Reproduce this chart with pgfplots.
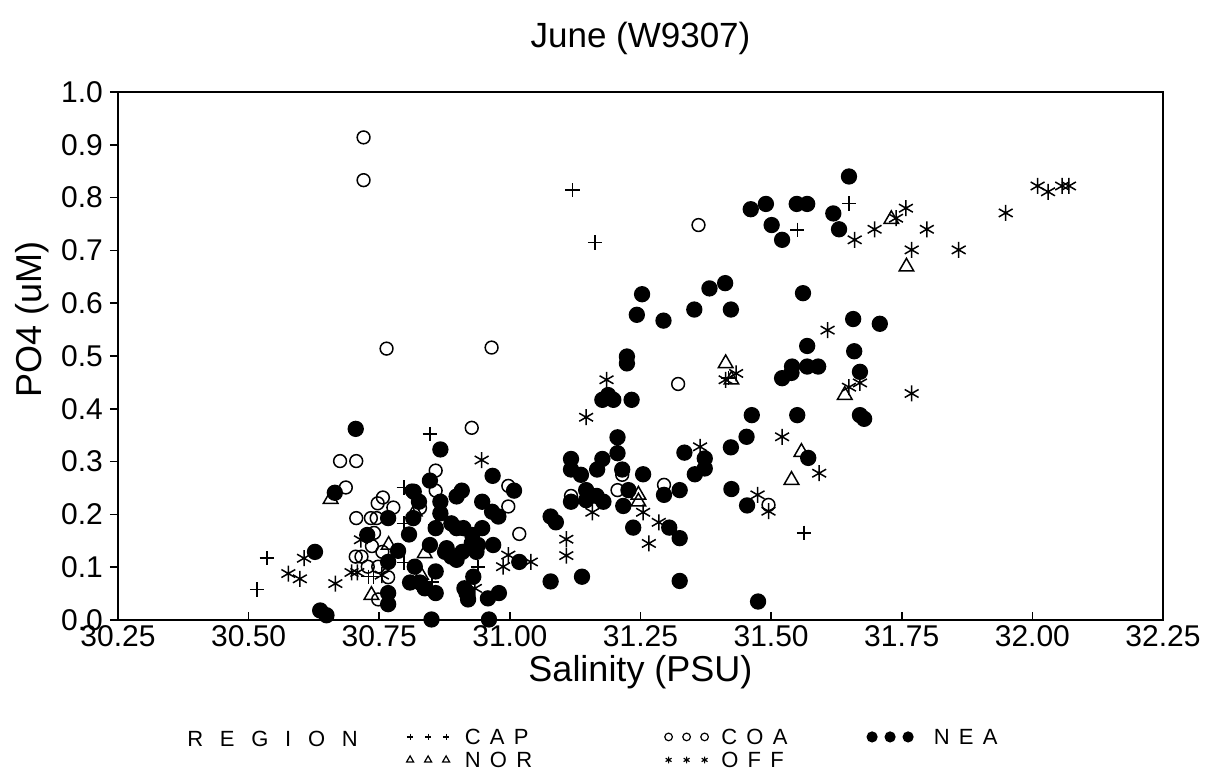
\documentclass[border=0pt]{standalone}
\usepackage{fontspec}
\setmainfont{Liberation Sans}
\usepackage{pgfplots}
\pgfplotsset{compat=1.18}
\begin{document}
\begin{tikzpicture}
\useasboundingbox (-59pt,-78.5pt) rectangle (546pt,310pt);
\begin{axis}[
  at={(0,0)}, anchor=south west,
  scale only axis, width=522.5pt, height=264pt,
  xmin=30.25, xmax=32.25, ymin=0, ymax=1,
  clip=false,
  axis line style={line width=1pt},
  tick style={line width=0.8pt, black},
  major tick length=4pt,
  xtick align=inside, ytick align=outside, tick pos=left,
  xtick={30.25,30.50,30.75,31.00,31.25,31.50,31.75,32.00,32.25},
  ytick={0,0.1,0.2,0.3,0.4,0.5,0.6,0.7,0.8,0.9,1.0},
  /pgf/number format/assume math mode=true,
  xticklabel style={font=\fontsize{15}{17}\selectfont, yshift=1pt, /pgf/number format/.cd, fixed, fixed zerofill, precision=2},
  yticklabel style={font=\fontsize{15}{17}\selectfont, /pgf/number format/.cd, fixed, fixed zerofill, precision=1},
  title={June (W9307)},
  title style={at={(axis description cs:0.5,1.0795)}, anchor=center, font=\fontsize{17.5}{20}\selectfont},
  xlabel={Salinity (PSU)},
  xlabel style={at={(axis description cs:0.5,-0.098)}, anchor=center, font=\fontsize{18}{21}\selectfont},
  ylabel={PO4 (uM)},
  ylabel style={at={(axis description cs:-0.0823,0.57)}, anchor=center, font=\fontsize{18}{21}\selectfont},
  legend columns=3,
  legend style={at={(axis description cs:0.2746,-0.2065)}, anchor=north west, draw=none, fill=none,
    inner sep=0pt, column sep=0pt, row sep=4pt,
    font=\fontsize{11}{13}\selectfont\addfontfeature{LetterSpace=42},
    nodes={inner sep=0pt, text height=7.5pt, text depth=0pt, anchor=west}},
  every axis plot/.append style={only marks, black, line width=0.75pt},
]
% CAP
\addplot[mark=+, mark size=3.6pt,
  legend image code/.code={\path (0pt,0pt) (27pt,0pt); \draw[only marks, mark=+, mark size=1.6pt, line width=0.6pt] plot coordinates {(2pt,0pt)(11pt,0pt)(20pt,0pt)};}]
coordinates {
(30.516,0.058) (30.535,0.117) (30.729,0.082) (30.739,0.082) (30.797,0.251)
(30.797,0.183) (30.797,0.109) (30.847,0.352) (30.858,0.180) (30.851,0.072)
(30.939,0.100) (31.120,0.814) (31.163,0.715) (31.550,0.739) (31.649,0.789)
(31.563,0.165) (31.418,0.458)
};
\addlegendentry{\makebox[101.5pt][l]{\hspace{2pt}CAP}}
% COA
\addplot[mark=o, mark size=3.2pt,
  legend image code/.code={\path (0pt,0pt) (27pt,0pt); \draw[only marks, mark=o, mark size=1.9pt, line width=0.6pt] plot coordinates {(2pt,0pt)(11pt,0pt)(20pt,0pt)};}]
coordinates {
(30.720,0.914) (30.720,0.833) (30.764,0.514) (30.965,0.516) (30.675,0.301)
(30.706,0.301) (30.686,0.251) (30.757,0.232) (30.747,0.221) (30.777,0.213)
(30.706,0.193) (30.734,0.193) (30.745,0.193) (30.736,0.140) (30.756,0.129)
(30.705,0.120) (30.716,0.120) (30.728,0.101) (30.748,0.101) (30.767,0.081)
(30.748,0.039) (30.828,0.212) (30.927,0.364) (30.858,0.283) (30.858,0.245)
(30.997,0.254) (30.997,0.215) (31.018,0.163) (31.117,0.235) (31.206,0.246)
(31.215,0.275) (31.295,0.256) (31.322,0.447) (31.361,0.748) (31.495,0.218)
(30.812,0.245) (30.740,0.165)
};
\addlegendentry{\makebox[73.5pt][l]{\hspace{1pt}COA}}
% NEA
\addplot[mark=*, mark size=3.7pt, fill=black,
  legend image code/.code={\path (0pt,0pt) (27pt,0pt); \draw[only marks, mark=*, fill=black, mark size=2.4pt] plot coordinates {(2.5pt,0pt)(11.5pt,0pt)(20.5pt,0pt)};}]
coordinates {
(30.637,0.018) (30.649,0.009) (30.627,0.129) (30.665,0.241) (30.705,0.362)
(30.727,0.161) (30.767,0.193) (30.767,0.110) (30.767,0.051) (30.767,0.030)
(30.786,0.131) (30.807,0.162) (30.809,0.071) (30.815,0.193) (30.816,0.243)
(30.818,0.101) (30.826,0.224) (30.828,0.071) (30.837,0.060) (30.847,0.264)
(30.847,0.142) (30.850,0.001) (30.858,0.174) (30.858,0.092) (30.858,0.051)
(30.867,0.323) (30.867,0.224) (30.867,0.202) (30.876,0.129) (30.879,0.136)
(30.888,0.183) (30.888,0.120) (30.898,0.234) (30.898,0.174) (30.898,0.114)
(30.908,0.245) (30.909,0.129) (30.911,0.174) (30.913,0.060) (30.917,0.051)
(30.920,0.039) (30.927,0.145) (30.928,0.161) (30.930,0.082) (30.933,0.142)
(30.936,0.129) (30.939,0.142) (30.947,0.224) (30.947,0.174) (30.958,0.041)
(30.960,0.001) (30.966,0.205) (30.967,0.273) (30.968,0.142) (30.978,0.196)
(30.979,0.051) (31.008,0.245) (31.018,0.110) (31.078,0.196) (31.078,0.073)
(31.088,0.185) (31.117,0.305) (31.117,0.285) (31.117,0.224) (31.136,0.275)
(31.138,0.082) (31.146,0.246) (31.146,0.227) (31.166,0.235) (31.167,0.285)
(31.177,0.305) (31.177,0.417) (31.179,0.224) (31.188,0.426) (31.198,0.417)
(31.206,0.346) (31.206,0.316) (31.215,0.285) (31.217,0.216) (31.224,0.499)
(31.224,0.486) (31.227,0.246) (31.233,0.417) (31.236,0.175) (31.243,0.578)
(31.253,0.617) (31.255,0.276) (31.294,0.567) (31.295,0.237) (31.305,0.175)
(31.325,0.246) (31.325,0.155) (31.325,0.074) (31.334,0.317) (31.353,0.588)
(31.354,0.276) (31.373,0.306) (31.373,0.287) (31.382,0.628) (31.412,0.638)
(31.423,0.588) (31.423,0.327) (31.424,0.248) (31.453,0.347) (31.454,0.217)
(31.461,0.778) (31.463,0.388) (31.475,0.035) (31.490,0.788) (31.501,0.748)
(31.521,0.720) (31.521,0.458) (31.540,0.480) (31.539,0.468) (31.549,0.788)
(31.550,0.388) (31.561,0.619) (31.569,0.788) (31.569,0.519) (31.569,0.480)
(31.571,0.307) (31.590,0.480) (31.619,0.770) (31.630,0.740) (31.649,0.840)
(31.657,0.570) (31.659,0.509) (31.670,0.470) (31.670,0.388) (31.678,0.381)
(31.708,0.561)
};
\addlegendentry{\hspace{6pt}NEA}
% NOR
\addplot[mark=triangle, mark size=4.2pt,
  legend image code/.code={\path (0pt,0pt) (27pt,0pt); \draw[only marks, mark=triangle, mark size=2pt, line width=0.6pt] plot coordinates {(2pt,0pt)(11pt,0pt)(20pt,0pt)};}]
coordinates {
(30.657,0.229) (30.735,0.047) (30.768,0.142) (30.818,0.205) (30.837,0.126)
(30.830,0.085) (31.246,0.237) (31.246,0.224) (31.413,0.486) (31.424,0.455)
(31.539,0.265) (31.558,0.318) (31.641,0.426) (31.730,0.759) (31.759,0.669)
};
\addlegendentry{\makebox[101.5pt][l]{\hspace{2pt}NOR}}
% OFF
\addplot[mark=asterisk, mark size=4pt,
  legend image code/.code={\path (0pt,0pt) (27pt,0pt); \draw[only marks, mark=asterisk, mark size=1.7pt, line width=0.6pt] plot coordinates {(2pt,0pt)(11pt,0pt)(20pt,0pt)};}]
coordinates {
(30.576,0.088) (30.598,0.078) (30.606,0.117) (30.666,0.069) (30.697,0.090)
(30.708,0.090) (30.715,0.152) (30.755,0.085) (30.933,0.060) (30.946,0.303)
(30.987,0.101) (30.997,0.123) (31.040,0.110) (31.108,0.153) (31.108,0.122)
(31.146,0.384) (31.158,0.204) (31.185,0.455) (31.255,0.204) (31.266,0.145)
(31.285,0.185) (31.364,0.328) (31.413,0.455) (31.433,0.467) (31.474,0.237)
(31.495,0.206) (31.521,0.347) (31.592,0.278) (31.608,0.549) (31.649,0.441)
(31.670,0.449) (31.660,0.720) (31.698,0.740) (31.739,0.761) (31.758,0.780)
(31.769,0.701) (31.769,0.429) (31.798,0.740) (31.859,0.701) (31.949,0.771)
(32.010,0.822) (32.030,0.811) (32.057,0.822) (32.070,0.822)
};
\addlegendentry{\makebox[73.5pt][l]{\hspace{1pt}OFF}}
\end{axis}
\node[anchor=west, inner sep=0pt, font=\fontsize{11}{13}\selectfont\addfontfeature{LetterSpace=76}] at (34.5pt,-59.5pt) {REGION};
\end{tikzpicture}
\end{document}
